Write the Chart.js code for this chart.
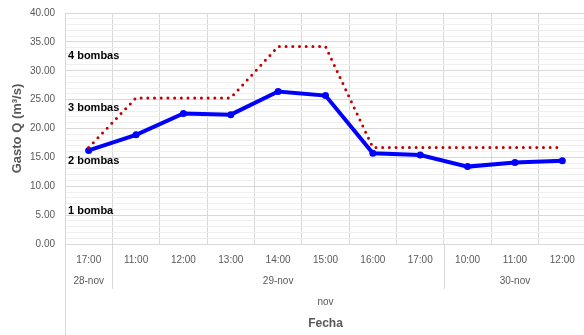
<!DOCTYPE html>
<html><head><meta charset="utf-8">
<script src="https://cdn.jsdelivr.net/npm/chart.js@4/dist/chart.umd.min.js"></script>
<style>html,body{margin:0;padding:0;overflow:hidden;background:#fff;width:584px;height:335px}canvas{display:block}</style>
</head><body>
<canvas id="c" width="590" height="335"></canvas>
<script>
const categories = ['17:00','11:00','12:00','13:00','14:00','15:00','16:00','17:00','10:00','11:00','12:00'];
const dateLabels = ['28-nov','29-nov','30-nov'];
const dateStart = [0, 1, 8];
const dateEnd = [0, 7, 10];
const monthLabel = 'nov';
const gasto = [16.2, 18.9, 22.6, 22.4, 26.4, 25.7, 15.7, 15.4, 13.4, 14.1, 14.4];
const capacidad = [16.7, 25.3, 25.3, 25.3, 34.2, 34.2, 16.7, 16.7, 16.7, 16.7, 16.7];
const bombaTexts = ['4 bombas', '3 bombas', '2 bombas', '1 bomba'];
const bombaLevels = [32.6, 23.6, 14.4, 5.7];
const yTitle = 'Gasto Q (m\u00b3/s)';
const xTitle = 'Fecha';

const GRAY = '#595959';
const LINE = '#d9d9d9';

const extras = {
  id: 'extras',
  afterDraw(chart) {
    const ctx = chart.ctx, x = chart.scales.x, y = chart.scales.y, a = chart.chartArea;
    ctx.save();
    ctx.fillStyle = '#000';
    ctx.font = 'bold 11px "Liberation Sans", Arial, sans-serif';
    ctx.textAlign = 'left';
    ctx.textBaseline = 'middle';
    bombaTexts.forEach((t, i) => ctx.fillText(t, a.left + 3, y.getPixelForValue(bombaLevels[i])));
    ctx.strokeStyle = LINE;
    ctx.lineWidth = 1;
    const half = (x.getPixelForValue(1) - x.getPixelForValue(0)) / 2;
    ctx.beginPath();
    ctx.moveTo(Math.round(a.left) + 0.5, a.bottom);
    ctx.lineTo(Math.round(a.left) + 0.5, chart.height);
    for (let i = 1; i < dateStart.length; i++) {
      const px = Math.round(x.getPixelForValue(dateStart[i]) - half) + 0.5;
      ctx.moveTo(px, a.bottom);
      ctx.lineTo(px, a.bottom + 45);
    }
    ctx.stroke();
    ctx.fillStyle = GRAY;
    ctx.font = '10px "Liberation Sans", Arial, sans-serif';
    ctx.textAlign = 'center';
    dateLabels.forEach((t, i) => {
      const cx = (x.getPixelForValue(dateStart[i]) + x.getPixelForValue(dateEnd[i])) / 2;
      ctx.fillText(t, cx, a.bottom + 37);
    });
    const mid = (a.left + a.right) / 2;
    ctx.fillText(monthLabel, mid, a.bottom + 58);
    ctx.font = 'bold 12px "Liberation Sans", Arial, sans-serif';
    ctx.fillText(xTitle, mid, a.bottom + 80);
    ctx.restore();
  }
};

new Chart(document.getElementById('c'), {
  type: 'line',
  data: {
    labels: categories,
    datasets: [
      {
        label: 'Capacidad',
        data: capacidad,
        borderColor: '#c00000',
        borderWidth: 3,
        borderDash: [0, 6.7],
        borderCapStyle: 'round',
        pointRadius: 0,
        fill: false,
        tension: 0
      },
      {
        label: 'Gasto',
        data: gasto,
        borderColor: '#0000ff',
        backgroundColor: '#0000ff',
        borderWidth: 4,
        pointRadius: 3.5,
        pointBorderWidth: 0,
        pointBackgroundColor: '#0000ff',
        fill: false,
        tension: 0
      }
    ]
  },
  options: {
    responsive: false,
    animation: false,
    devicePixelRatio: 1,
    layout: { padding: { top: 0, right: 2, left: 0, bottom: 0 } },
    plugins: { legend: { display: false }, tooltip: { enabled: false } },
    scales: {
      x: {
        offset: true,
        grid: { offset: true, color: LINE, drawTicks: false },
        border: { color: LINE },
        ticks: { color: GRAY, font: { size: 10, family: '"Liberation Sans", Arial, sans-serif' }, padding: 10, maxRotation: 0, autoSkip: false },
        afterFit(s) { s.height = 91; }
      },
      y: {
        min: 0, max: 40,
        grid: { drawTicks: false, color: c => (c.tick && c.tick.value % 5 === 0) ? LINE : '#efefef' },
        border: { color: LINE },
        ticks: {
          stepSize: 1, autoSkip: false, padding: 10, color: GRAY,
          font: { size: 10, family: '"Liberation Sans", Arial, sans-serif' },
          callback: v => (v % 5 === 0 ? v.toFixed(2) : '')
        },
        title: { display: true, text: yTitle, color: GRAY, font: { size: 13, weight: 'bold', family: '"Liberation Sans", Arial, sans-serif' }, padding: { top: 10, bottom: 4 } },
        afterFit(s) { s.width = 65; s.paddingTop = 13; }
      }
    }
  },
  plugins: [extras]
});
</script>
</body></html>
